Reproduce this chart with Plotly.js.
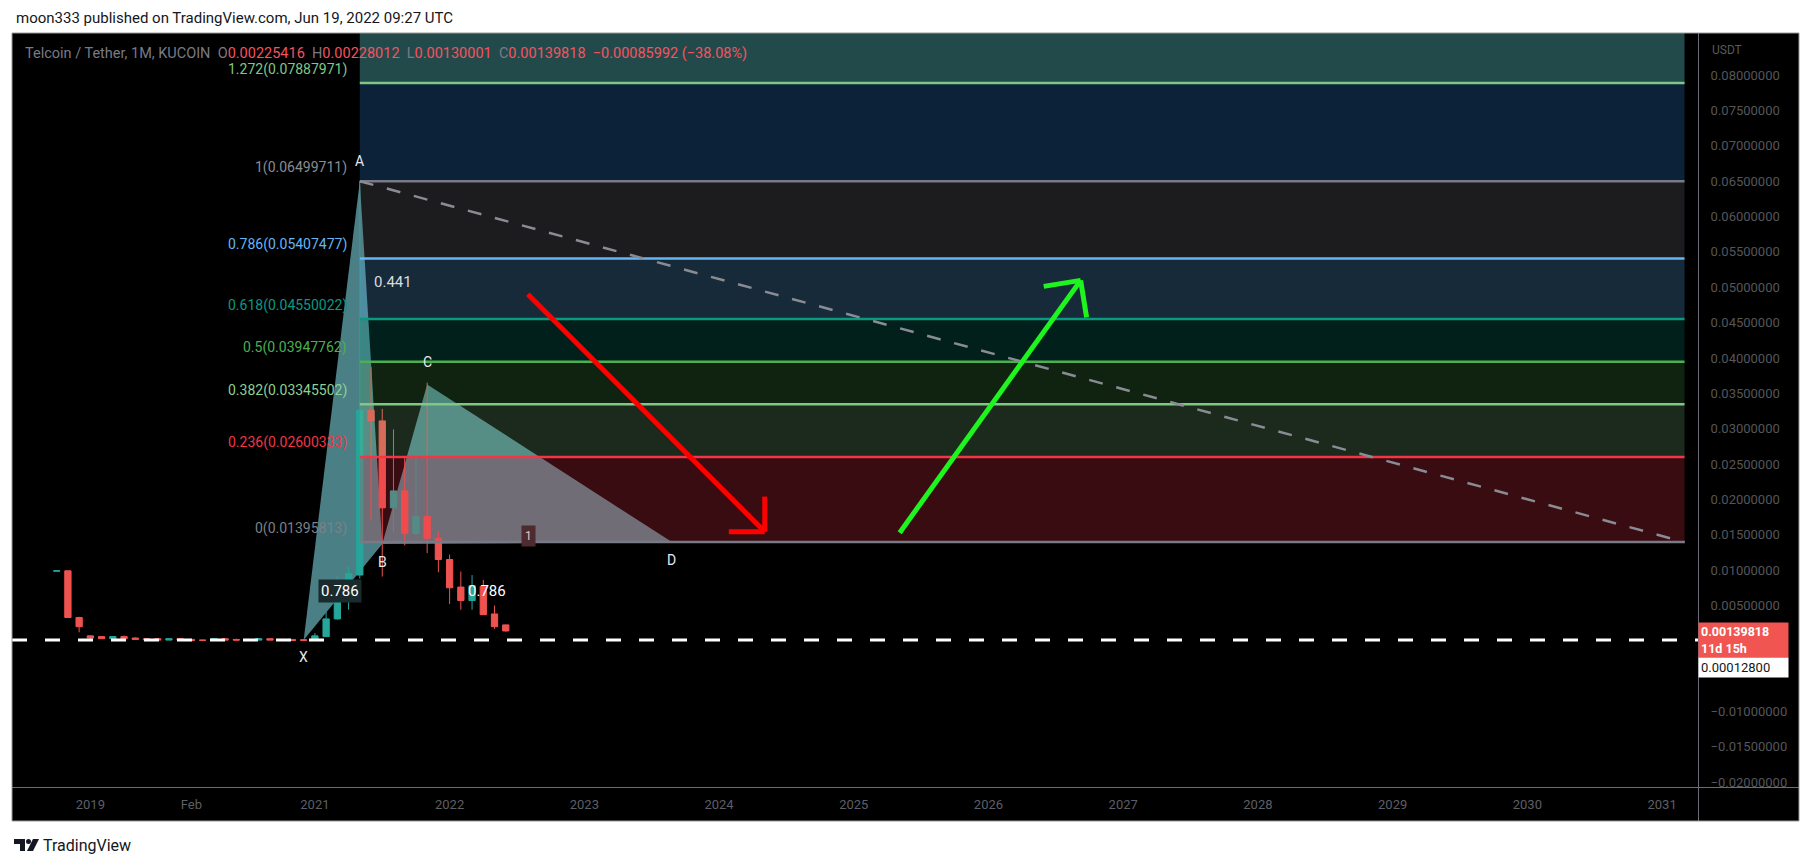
<!DOCTYPE html>
<html><head><meta charset="utf-8">
<script src="https://cdn.plot.ly/plotly-3.0.1.min.js"></script>
<style>html,body{margin:0;padding:0;background:#fff;overflow:hidden}</style>
</head><body><div id="chart" style="width:1813px;height:866px"></div>
<script>
// ---- candle data (monthly bars, index 0 = Jan 2021) ----
const barIndex = [-23,-22,-21,-20,-19,-18,-17,-16,-15,-14,-13,-12,-11,-10,-9,-8,-7,-6,-5,-4,-3,-2,-1,0,1,2,3,4,5,6,7,8,9,10,11,12,13,14,15,16,17];
const openP  = [0.00985,0.0099,0.0033,0.0007,0.0006,0.0003,0.0006,0.0004,0.0003,0.0003,0.0001,0.0003,0.0002,0.00012,0.00007,0.0003,0.0002,0.0002,0.0001,0.0003,0.0002,0.0002,0.00015,0.0001,0.0006,0.0031,0.0074,0.0093,0.0326,0.0311,0.0188,0.0212,0.0152,0.0176,0.0145,0.0115,0.0076,0.0057,0.0077,0.0038,0.00225416];
const highP  = [0.0099,0.0099,0.0034,0.0008,0.0006,0.00065,0.00075,0.0005,0.0004,0.0004,0.00035,0.00035,0.0002,0.00013,0.00035,0.00032,0.0003,0.0002,0.00035,0.0003,0.00022,0.00021,0.00025,0.0011,0.0041,0.0091,0.0105,0.0650,0.0387,0.0328,0.0299,0.0259,0.0261,0.0365,0.0155,0.0122,0.0098,0.0093,0.0086,0.0050,0.00228012];
const lowP   = [0.00985,0.0033,0.0012,0.00005,0.0003,0.0003,0.0003,0.0002,0.00015,0.0001,0.0001,0.0001,0.00005,0.00006,0.00006,0.0001,0.00009,0.0001,0.0001,0.0001,0.00009,0.00005,0.00005,0.0001,0.0006,0.0030,0.0044,0.0088,0.0171,0.0091,0.0154,0.0135,0.0149,0.0124,0.0097,0.0052,0.0044,0.0044,0.0037,0.0017,0.00130001];
const closeP = [0.0099,0.0033,0.0020,0.0004,0.0003,0.0006,0.0003,0.0002,0.00015,0.0001,0.0003,0.0001,0.00005,0.00007,0.0003,0.0001,0.0001,0.0001,0.0003,0.0001,0.0001,0.00005,0.00008,0.0007,0.0031,0.0076,0.0095,0.0326,0.0311,0.0188,0.0212,0.0152,0.0176,0.0145,0.0115,0.0075,0.0057,0.0078,0.0037,0.0020,0.00139818];

// ---- axes ----
const xTickVals = [-20,-11,0,12,24,36,48,60,72,84,96,108,120];
const xTickText = ['2019','Feb','2021','2022','2023','2024','2025','2026','2027','2028','2029','2030','2031'];
// 0 and -0.005 are hidden behind the price labels in the reference
const yTickVals = [-0.02,-0.015,-0.01,0.005,0.01,0.015,0.02,0.025,0.03,0.035,0.04,0.045,0.05,0.055,0.06,0.065,0.07,0.075,0.08];

// ---- fibonacci retracement ----
const fibLevels = [0,0.236,0.382,0.5,0.618,0.786,1,1.272];
const fibPrices = [0.01395813,0.02600333,0.03345502,0.03947762,0.04550022,0.05407477,0.06499711,0.07887971];
const fibLineColors = ['#787b86','#f23645','#81c784','#4caf50','#089981','#64b5f6','#787b86','#81c784'];
const fibLabelColors = ['#7d7f88','#f23645','#8fcf92','#4caf50','#089981','#64b5f6','#8a8c94','#81c784'];
const fibBandColors = ['rgba(242,54,69,0.23)','rgba(129,199,132,0.21)','rgba(76,175,80,0.2)','rgba(8,153,129,0.21)','rgba(100,181,246,0.23)','rgba(120,123,134,0.23)','rgba(48,148,243,0.23)','#234a4b'];
const fibStart = 4, fibEnd = 122;

// ---- XABCD pattern ----
const patternNames = ['X','A','B','C','D'];
const patternX = [-1, 4, 6, 10, 31.8];
const patternY = [0.00013, 0.06499711, 0.0137, 0.03625, 0.01395813];
const patternLabelShift = [-17, 20, -18, 22, -18];
const ratioText = ['0.441','0.786','0.786','1'];
const ratioX = [6.95, 2.23, 15.36, 19.06];
const ratioY = [0.0508, 0.00708, 0.00708, 0.01487];

// ---- arrows and lines ----
const redArrowX = [18.97, 40.07], redArrowY = [0.0490, 0.01543];
const redHeadX = [40.07, 36.87], redHeadY = [0.0204, 0.01543];
const greenArrowX = [52.09, 68.21], greenArrowY = [0.01529, 0.05097];
const greenHeadX = [64.92, 68.74], greenHeadY = [0.05012, 0.04573];
const horizLineValue = 0.000128;

// pixel -> paper helpers for page furniture
const PX = x => (x - 12) / 1686;
const PY = y => (787 - y) / 754;
const FONT = 'Roboto, "Liberation Sans", sans-serif';

const traces = [{
  type: 'candlestick', x: barIndex, open: openP, high: highP, low: lowP, close: closeP,
  increasing: {line: {color: '#26a69a', width: 1}, fillcolor: '#26a69a'},
  decreasing: {line: {color: '#ef5350', width: 1}, fillcolor: '#ef5350'},
  whiskerwidth: 0, hoverinfo: 'skip', showlegend: false
}];

const shapes = [];
shapes.push({type:'rect', xref:'paper', yref:'paper', x0:PX(12), x1:PX(1799), y0:PY(821), y1:PY(33), fillcolor:'#000', line:{width:0}, layer:'below'});
function tri(i){ return 'M'+patternX[i]+','+patternY[i]+' L'+patternX[i+1]+','+patternY[i+1]+' L'+patternX[i+2]+','+patternY[i+2]+' Z'; }
shapes.push({type:'path', xref:'x', yref:'y', path:tri(0), fillcolor:'#4b7f86', line:{width:0}, layer:'below'});
shapes.push({type:'path', xref:'x', yref:'y', path:tri(2), fillcolor:'#4b7f86', line:{width:0}, layer:'below'});
for (let i = 0; i < fibPrices.length; i++) {
  const top = i < fibPrices.length - 1 ? fibPrices[i+1] : 0.095;
  shapes.push({type:'rect', xref:'x', yref:'y', x0:fibStart, x1:fibEnd, y0:fibPrices[i], y1:top, fillcolor:fibBandColors[i], line:{width:0}, layer:'above'});
}
for (let i = 0; i < fibPrices.length; i++) {
  shapes.push({type:'line', xref:'x', yref:'y', x0:fibStart, x1:fibEnd, y0:fibPrices[i], y1:fibPrices[i], line:{color:fibLineColors[i], width:2.5}, layer:'above'});
}
shapes.push({type:'line', xref:'x', yref:'y', x0:fibStart, x1:fibEnd, y0:fibPrices[6], y1:fibPrices[0], line:{color:'#8a8c94', width:2.5, dash:'14px,14px'}, layer:'above'});
shapes.push({type:'line', xref:'paper', yref:'y', x0:0, x1:1, y0:horizLineValue, y1:horizLineValue, line:{color:'#ffffff', width:3, dash:'15px,18px'}, layer:'above'});
function seg(x0,y0,x1,y1,color){ shapes.push({type:'line', xref:'x', yref:'y', x0:x0, y0:y0, x1:x1, y1:y1, line:{color:color, width:5}, layer:'above'}); }
seg(redArrowX[0], redArrowY[0], redArrowX[1], redArrowY[1], '#ff0000');
seg(redArrowX[1], redArrowY[1], redHeadX[0], redHeadY[0], '#ff0000');
seg(redArrowX[1], redArrowY[1], redHeadX[1], redHeadY[1], '#ff0000');
seg(greenArrowX[0], greenArrowY[0], greenArrowX[1], greenArrowY[1], '#1ef51e');
seg(greenArrowX[1], greenArrowY[1], greenHeadX[0], greenHeadY[0], '#1ef51e');
seg(greenArrowX[1], greenArrowY[1], greenHeadX[1], greenHeadY[1], '#1ef51e');
function pline(x0,y0,x1,y1,c){ shapes.push({type:'line', xref:'paper', yref:'paper', x0:PX(x0), y0:PY(y0), x1:PX(x1), y1:PY(y1), line:{color:c, width:1}, layer:'above'}); }
pline(1698.5, 33, 1698.5, 821, '#6a6d75');
pline(12, 787.5, 1799, 787.5, '#6a6d75');
pline(12, 33, 1799, 33, '#9a9a9a');
pline(1799, 33, 1799, 821, '#9a9a9a');
pline(12, 821, 1799, 821, '#9a9a9a');
pline(12, 33, 12, 821, '#9a9a9a');
function ppath(pts){ return pts.map((p,i)=>(i?'L':'M')+PX(p[0])+','+PY(p[1])).join(' ')+' Z'; }
shapes.push({type:'path', xref:'paper', yref:'paper', path:ppath([[14,839],[25,839],[25,851],[20,851],[20,844],[14,844]]), fillcolor:'#131722', line:{width:0}});
shapes.push({type:'circle', xref:'paper', yref:'paper', x0:PX(26), x1:PX(31), y0:PY(844), y1:PY(839), fillcolor:'#131722', line:{width:0}});
shapes.push({type:'path', xref:'paper', yref:'paper', path:ppath([[33,839],[39,839],[33,851],[27,851]]), fillcolor:'#131722', line:{width:0}});

const ann = [];
const nb = '\u00a0';
const g = s => '<span style="color:#787b86">'+s+'</span>';
const r = s => '<span style="color:#f7525f">'+s+'</span>';
ann.push({xref:'paper', yref:'paper', x:PX(14), y:PY(18), xanchor:'left', yanchor:'middle', showarrow:false,
  text:'moon333 published on TradingView.com, Jun 19, 2022 09:27 UTC', font:{family:FONT, size:15, color:'#131722'}});
ann.push({xref:'paper', yref:'paper', x:PX(23), y:PY(53), xanchor:'left', yanchor:'middle', showarrow:false,
  text: g('Telcoin / Tether, 1M, KUCOIN'+nb+nb+'O')+r('0.00225416')+g(nb+nb+'H')+r('0.00228012')+g(nb+nb+'L')+r('0.00130001')+g(nb+nb+'C')+r('0.00139818'+nb+nb+'\u22120.00085992 (\u221238.08%)'),
  font:{family:FONT, size:14.5, color:'#787b86'}});
for (let i = 0; i < fibPrices.length; i++) {
  ann.push({xref:'x', yref:'y', x:fibStart, y:fibPrices[i], xanchor:'right', yanchor:'middle', xshift:-11, yshift:14, showarrow:false,
    text: String(fibLevels[i]) + '(' + fibPrices[i].toFixed(8) + ')', font:{family:FONT, size:14, color:fibLabelColors[i]}});
}
for (let i = 0; i < patternNames.length; i++) {
  ann.push({xref:'x', yref:'y', x:patternX[i], y:patternY[i], yshift:patternLabelShift[i], showarrow:false,
    text:patternNames[i], font:{family:FONT, size:14, color:'#e6e8ee'}});
}
ann.push({xref:'x', yref:'y', x:ratioX[0], y:ratioY[0], showarrow:false, text:ratioText[0], font:{family:FONT, size:15, color:'#d8dbe2'}});
ann.push({xref:'x', yref:'y', x:ratioX[1], y:ratioY[1], showarrow:false, text:ratioText[1], bgcolor:'#1b2a2d', borderpad:2, font:{family:FONT, size:15, color:'#ffffff'}});
ann.push({xref:'x', yref:'y', x:ratioX[2], y:ratioY[2], showarrow:false, text:ratioText[2], font:{family:FONT, size:15, color:'#ffffff'}});
ann.push({xref:'x', yref:'y', x:ratioX[3], y:ratioY[3], showarrow:false, text:ratioText[3], bgcolor:'#4d2b2f', borderpad:3, font:{family:FONT, size:12, color:'#e8c6c6'}});
ann.push({xref:'paper', yref:'paper', x:PX(1710), y:PY(50), xanchor:'left', yanchor:'middle', showarrow:false, text:'USDT', font:{family:FONT, size:12, color:'#5a5a5a'}});
ann.push({xref:'paper', yref:'paper', x:PX(1698), y:PY(640), xanchor:'left', yanchor:'middle', showarrow:false, align:'left',
  text:'<b>'+closeP[closeP.length-1].toFixed(8)+'</b><br><b>11d 15h</b>', bgcolor:'#f05552', borderpad:2, width:85, height:30, font:{family:FONT, size:12.5, color:'#ffffff'}});
ann.push({xref:'paper', yref:'paper', x:PX(1698), y:PY(667.5), xanchor:'left', yanchor:'middle', showarrow:false, align:'left',
  text:horizLineValue.toFixed(8), bgcolor:'#ffffff', borderpad:2, width:85, height:15, font:{family:FONT, size:13, color:'#131722'}});
ann.push({xref:'paper', yref:'paper', x:PX(41), y:PY(845), xanchor:'left', yanchor:'middle', showarrow:false, text:'TradingView', font:{family:FONT, size:16, color:'#131722'}});

const layout = {
  width:1813, height:866, margin:{l:12, r:115, t:33, b:79, pad:0},
  paper_bgcolor:'#ffffff', plot_bgcolor:'#000000', showlegend:false, boxgap:0.2,
  xaxis:{range:[-26.98, 123.2], tickvals:xTickVals, ticktext:xTickText, showgrid:false, zeroline:false, showline:false,
    ticks:'outside', ticklen:5, tickcolor:'rgba(0,0,0,0)', tickfont:{family:FONT, size:13, color:'#5d5f66'}, rangeslider:{visible:false}, fixedrange:true},
  yaxis:{range:[-0.02067, 0.08595], side:'right', tickvals:yTickVals, ticktext:yTickVals.map(v=>v.toFixed(8).replace('-','\u2212')),
    showgrid:false, zeroline:false, showline:false, ticks:'outside', ticklen:9, tickcolor:'rgba(0,0,0,0)', tickfont:{family:FONT, size:13, color:'#555659'}, fixedrange:true},
  shapes:shapes, annotations:ann
};
Plotly.newPlot('chart', traces, layout, {staticPlot:true, displayModeBar:false});
</script></body></html>
